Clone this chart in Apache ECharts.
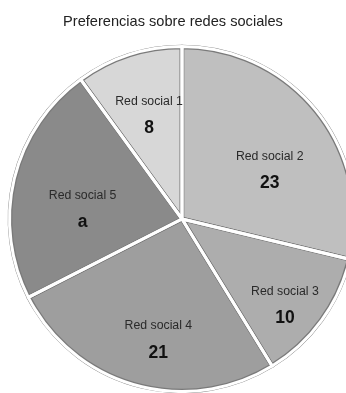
<!DOCTYPE html>
<html>
<head>
<meta charset="utf-8">
<script src="https://cdn.jsdelivr.net/npm/echarts@6/dist/echarts.min.js"></script>
<style>
html,body{margin:0;padding:0;background:#fff;}
#chart{width:346px;height:393px;}
</style>
</head>
<body>
<div id="chart"></div>
<script>
// ---- data ----
const categories = ['Red social 1', 'Red social 2', 'Red social 3', 'Red social 4', 'Red social 5'];
const values = [8, 23, 10, 21, 18];            // slice 5 value estimated from its angle
const valueLabels = ['8', '23', '10', '21', 'a'];
const title = 'Preferencias sobre redes sociales';

// ---- style ----
const colors = ['#d7d7d7', '#bfbfbf', '#adadad', '#9e9e9e', '#8a8a8a'];
const labelDistance = [124, 103, 121, 111, 108];   // radial label distance per slice (style)
const CENTER = [182, 219];
const R = 172;
const LABEL_SHIFT = [6, 15];
const FONT = "'Liberation Sans', Arial, sans-serif";

const chart = echarts.init(document.getElementById('chart'), null, {renderer: 'canvas'});

const total = values.reduce((a, b) => a + b, 0);
const startAngle = 90 + values[0] / total * 360;
const baseData = categories.map((c, i) => ({name: c, value: values[i]}));

chart.setOption({
  animation: false,
  backgroundColor: '#fff',
  title: {
    text: title,
    left: 'center',
    top: 9,
    textStyle: {fontFamily: FONT, fontSize: 14.6, fontWeight: 'normal', color: '#222'}
  },
  series: [
    {
      type: 'pie',
      center: CENTER,
      radius: [0, R],
      startAngle: startAngle,
      clockwise: true,
      silent: true,
      data: baseData.map((d, i) => ({...d, itemStyle: {color: colors[i]}})),
      itemStyle: {borderColor: '#7a7a7a', borderWidth: 4.6},
      label: {
        show: true,
        position: 'inside',
        formatter: p => '{n|' + p.name + '}\n{v|' + valueLabels[p.dataIndex] + '}',
        rich: {
          n: {fontFamily: FONT, fontSize: 12.3, color: '#2a2a2a', lineHeight: 27, align: 'center'},
          v: {fontFamily: FONT, fontSize: 17.5, fontWeight: 'bold', color: '#111', lineHeight: 27, align: 'center'}
        }
      },
      labelLine: {show: false},
      labelLayout: function (p) {
        const r = p.labelRect;
        const cx = r.x + r.width / 2, cy = r.y + r.height / 2;
        const vx = cx - CENTER[0], vy = cy - CENTER[1];
        const len = Math.sqrt(vx * vx + vy * vy) || 1;
        const s = labelDistance[p.dataIndex] / len - 1;
        return {dx: vx * s + LABEL_SHIFT[0], dy: vy * s + LABEL_SHIFT[1]};
      }
    },
    {
      type: 'pie',
      center: CENTER,
      radius: [0, R + 0.5],
      startAngle: startAngle,
      clockwise: true,
      silent: true,
      data: baseData,
      itemStyle: {color: 'rgba(0,0,0,0)', borderColor: '#ffffff', borderWidth: 3},
      label: {show: false},
      labelLine: {show: false}
    }
  ]
});
</script>
</body>
</html>
